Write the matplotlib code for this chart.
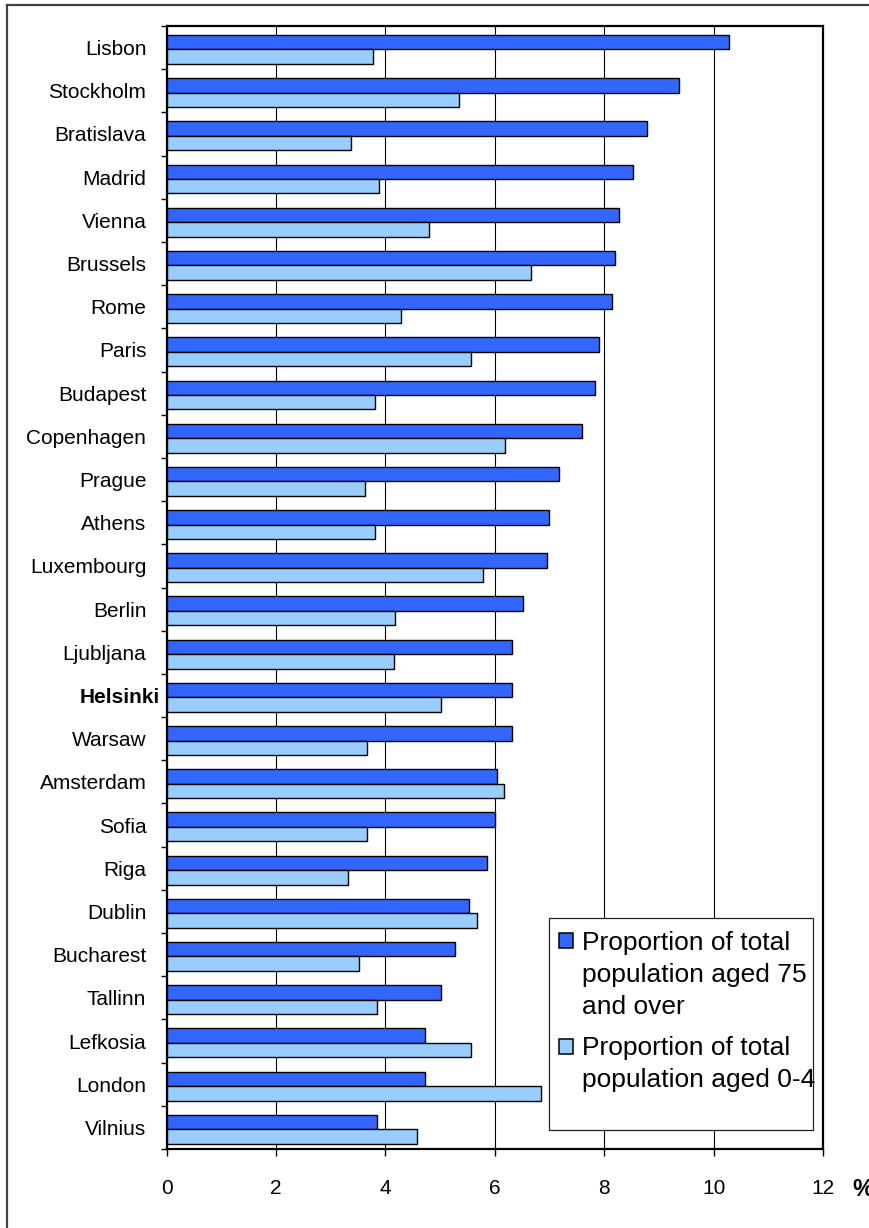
import numpy as np
import matplotlib
matplotlib.use("Agg")
import matplotlib.pyplot as plt
from matplotlib.patches import Rectangle
from matplotlib.lines import Line2D
import matplotlib.transforms as mtransforms

plt.rcParams['font.family'] = ['Liberation Sans', 'DejaVu Sans']

cities = ["Lisbon", "Stockholm", "Bratislava", "Madrid", "Vienna", "Brussels",
          "Rome", "Paris", "Budapest", "Copenhagen", "Prague", "Athens",
          "Luxembourg", "Berlin", "Ljubljana", "Helsinki", "Warsaw",
          "Amsterdam", "Sofia", "Riga", "Dublin", "Bucharest", "Tallinn",
          "Lefkosia", "London", "Vilnius"]
aged_75_over = [10.29, 9.37, 8.79, 8.53, 8.28, 8.20, 8.14, 7.91, 7.84, 7.59,
                7.18, 7.00, 6.96, 6.52, 6.31, 6.31, 6.31, 6.05, 6.01, 5.86,
                5.53, 5.28, 5.02, 4.73, 4.73, 3.85]
aged_0_4 = [3.78, 5.35, 3.37, 3.89, 4.80, 6.67, 4.29, 5.57, 3.82, 6.19,
            3.63, 3.82, 5.79, 4.18, 4.15, 5.02, 3.67, 6.16, 3.67, 3.31,
            5.68, 3.52, 3.85, 5.57, 6.85, 4.58]
x_ticks = [0, 2, 4, 6, 8, 10, 12]
highlight = "Helsinki"
legend_labels = ["Proportion of total\npopulation aged 75\nand over",
                 "Proportion of total\npopulation aged 0-4"]

DARK = "#3366FF"
LIGHT = "#99CCFF"

W, H = 869, 1228
fig = plt.figure(figsize=(W / 100, H / 100), dpi=100)


def fx(px):
    return px / W


def fy(py):
    return 1 - py / H


# outer frame (only the top and left edges fall inside the canvas)
fig.add_artist(Line2D([fx(7), fx(7)], [0, fy(5)], color="#404040", lw=1.6,
                      transform=fig.transFigure))
fig.add_artist(Line2D([fx(7), 1], [fy(5), fy(5)], color="#404040", lw=1.6,
                      transform=fig.transFigure))

left, right, top, bottom = 166.5, 823, 26, 1149
ax = fig.add_axes([fx(left), fy(bottom), fx(right - left), (bottom - top) / H])

n = len(cities)
y = np.arange(n)
bar_h = 0.335
ax.barh(y - 0.125, aged_75_over, height=bar_h, color=DARK, edgecolor="black",
        linewidth=1.0, zorder=3)
ax.barh(y + 0.21, aged_0_4, height=bar_h, color=LIGHT, edgecolor="black",
        linewidth=1.0, zorder=3)

ax.set_xlim(0, 12)
ax.set_ylim(n - 0.5, -0.5)

ax.set_xticks(x_ticks)
ax.set_xticklabels([str(v) for v in x_ticks], fontsize=15)
ax.tick_params(axis="x", direction="out", length=5, width=1, pad=16.5)

ax.set_yticks(y)
ax.set_yticklabels(cities, fontsize=15)
ax.tick_params(axis="y", which="major", length=0, pad=14.5)
ax.set_yticks(np.arange(n + 1) - 0.5, minor=True)
ax.tick_params(axis="y", which="minor", direction="out", length=4.3, width=1)

for lab in ax.get_yticklabels():
    if lab.get_text() == highlight:
        lab.set_fontweight("bold")
        lab.set_transform(lab.get_transform() +
                          mtransforms.ScaledTranslation(14 / 100, 0, fig.dpi_scale_trans))

ax.grid(axis="x", color="black", linewidth=0.8, zorder=1)
ax.grid(axis="y", visible=False)
ax.set_axisbelow(True)
for s in ax.spines.values():
    s.set_linewidth(1.6)
    s.set_color("black")

# unit label beside the axis
fig.text(fx(852), fy(1196), "%", fontsize=17, fontweight="bold", va="baseline",
         ha="left")

# legend box
lx0, ly0, lx1, ly1 = 549.3, 918.3, 813.3, 1130
fig.add_artist(Rectangle((fx(lx0), fy(ly1)), fx(lx1 - lx0), (ly1 - ly0) / H,
                         facecolor="white", edgecolor="#222222", lw=0.9,
                         transform=fig.transFigure, zorder=5))
entry_baselines = [[950.3, 982, 1013.7], [1055.3, 1087]]
marker_tops = [933, 1039]
for label, color, bases, mt in zip(legend_labels, [DARK, LIGHT],
                                    entry_baselines, marker_tops):
    fig.add_artist(Rectangle((fx(559), fy(mt + 14.5)), fx(14), 14.5 / H,
                             facecolor=color, edgecolor="black", lw=1.1,
                             transform=fig.transFigure, zorder=6))
    for line, b in zip(label.split("\n"), bases):
        fig.text(fx(581.7), fy(b), line, fontsize=19, va="baseline",
                 ha="left", zorder=7)

fig.savefig("out.png", dpi=100)
